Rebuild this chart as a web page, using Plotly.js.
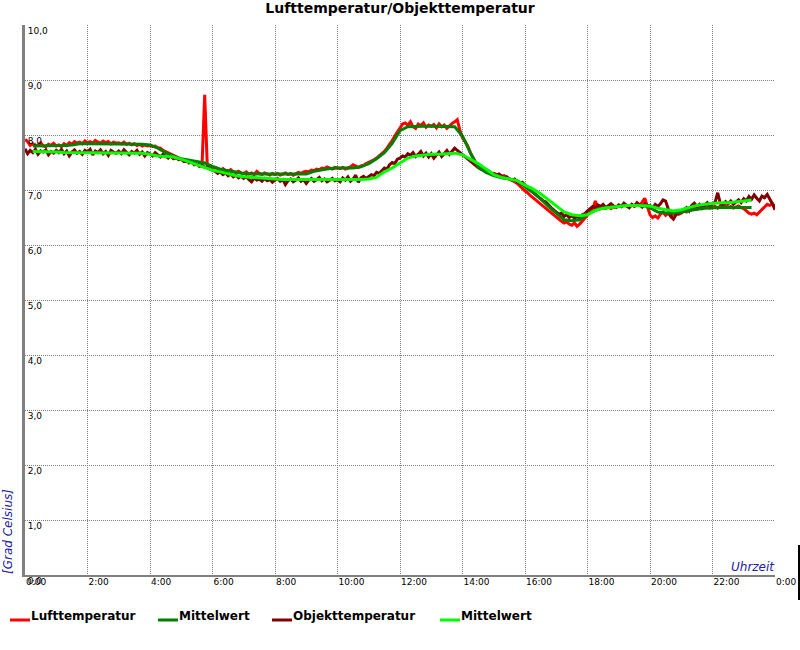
<!DOCTYPE html>
<html>
<head>
<meta charset="utf-8">
<script src="https://cdn.plot.ly/plotly-3.0.1.min.js"></script>
<style>html,body{margin:0;padding:0;background:#fff;}#chart{width:800px;height:650px;}</style>
</head>
<body>
<div id="chart"></div>
<script>
// ---- data ----
const chartTitle = 'Lufttemperatur/Objekttemperatur';
const seriesNames = ['Lufttemperatur', 'Mittelwert', 'Objekttemperatur', 'Mittelwert'];
const xTickHours = [0, 2, 4, 6, 8, 10, 12, 14, 16, 18, 20, 22, 24];
const xTickLabels = ['0:00', '2:00', '4:00', '6:00', '8:00', '10:00', '12:00', '14:00', '16:00', '18:00', '20:00', '22:00', '0:00'];
const yTickValues = [0, 1, 2, 3, 4, 5, 6, 7, 8, 9, 10];
const xAxisLabel = 'Uhrzeit';
const yAxisLabel = '[Grad Celsius]';

// raw readings every 5 minutes from 0:00 to 24:00
const rawIntervalMinutes = 5;
const lufttemperatur = [
  7.92, 7.88, 7.81, 7.84, 7.80, 7.82, 7.86, 7.80, 7.79, 7.83, 7.81, 7.85,
  7.80, 7.82, 7.79, 7.84, 7.81, 7.86, 7.83, 7.88, 7.85, 7.87, 7.84, 7.89,
  7.86, 7.88, 7.85, 7.90, 7.87, 7.85, 7.89, 7.86, 7.88, 7.84, 7.87, 7.85,
  7.86, 7.84, 7.87, 7.83, 7.85, 7.82, 7.84, 7.81, 7.83, 7.80, 7.82, 7.80,
  7.81, 7.79, 7.80, 7.77, 7.76, 7.72, 7.70, 7.68, 7.66, 7.63, 7.61, 7.58,
  7.56, 7.55, 7.52, 7.53, 7.50, 7.49, 7.48, 7.46, 7.47, 8.73, 7.44, 7.42,
  7.40, 7.41, 7.38, 7.36, 7.39, 7.35, 7.34, 7.37, 7.33, 7.32, 7.34, 7.31,
  7.30, 7.33, 7.29, 7.31, 7.28, 7.34, 7.30, 7.28, 7.31, 7.29, 7.27, 7.30,
  7.28, 7.30, 7.27, 7.29, 7.31, 7.28, 7.30, 7.27, 7.29, 7.32, 7.30, 7.33,
  7.34, 7.33, 7.36, 7.35, 7.38, 7.37, 7.40, 7.39, 7.42, 7.40, 7.38, 7.41,
  7.40, 7.39, 7.41, 7.38, 7.40, 7.42, 7.46, 7.43, 7.41, 7.44, 7.45, 7.48,
  7.50, 7.53, 7.55, 7.58, 7.62, 7.66, 7.70, 7.76, 7.82, 7.90, 7.98, 8.06,
  8.14, 8.20, 8.22, 8.18, 8.24, 8.15, 8.12, 8.20, 8.17, 8.22, 8.14, 8.18,
  8.16, 8.19, 8.13, 8.20, 8.15, 8.18, 8.12, 8.17, 8.21, 8.24, 8.28, 8.08,
  7.95, 7.88, 7.80, 7.68, 7.58, 7.50, 7.44, 7.40, 7.38, 7.35, 7.33, 7.30,
  7.30, 7.28, 7.27, 7.25, 7.26, 7.22, 7.20, 7.18, 7.15, 7.12, 7.08, 7.03,
  6.98, 6.95, 6.90, 6.86, 6.82, 6.78, 6.74, 6.70, 6.66, 6.62, 6.58, 6.54,
  6.50, 6.46, 6.43, 6.40, 6.42, 6.38, 6.36, 6.40, 6.34, 6.38, 6.44, 6.50,
  6.56, 6.60, 6.64, 6.80, 6.66, 6.68, 6.70, 6.67, 6.69, 6.66, 6.70, 6.68,
  6.72, 6.70, 6.75, 6.71, 6.68, 6.73, 6.70, 6.74, 6.72, 6.78, 6.85, 6.70,
  6.55, 6.50, 6.53, 6.49, 6.56, 6.60, 6.54, 6.58, 6.52, 6.57, 6.60, 6.56,
  6.58, 6.62, 6.60, 6.66, 6.64, 6.68, 6.65, 6.69, 6.66, 6.68, 6.70, 6.67,
  6.68, 6.70, 6.67, 6.71, 6.69, 6.72, 6.68, 6.70, 6.67, 6.69, 6.71, 6.68,
  6.66, 6.62, 6.58, 6.56, 6.58, 6.55, 6.60, 6.64, 6.70, 6.74, 6.72, 6.75,
  6.70
];
const objekttemperatur = [
  7.75, 7.66, 7.72, 7.68, 7.74, 7.65, 7.71, 7.69, 7.73, 7.64, 7.70, 7.67,
  7.72, 7.68, 7.74, 7.66, 7.71, 7.62, 7.69, 7.73, 7.67, 7.70, 7.65, 7.72,
  7.69, 7.74, 7.64, 7.71, 7.68, 7.73, 7.66, 7.70, 7.63, 7.72, 7.69, 7.67,
  7.71, 7.66, 7.73, 7.68, 7.64, 7.70, 7.67, 7.72, 7.65, 7.69, 7.62, 7.68,
  7.66, 7.62, 7.68, 7.64, 7.60, 7.65, 7.62, 7.58, 7.62, 7.57, 7.59, 7.55,
  7.56, 7.52, 7.54, 7.49, 7.51, 7.46, 7.48, 7.43, 7.45, 7.41, 7.42, 7.38,
  7.36, 7.34, 7.30, 7.33, 7.28, 7.31, 7.26, 7.29, 7.24, 7.27, 7.22, 7.25,
  7.21, 7.24, 7.19, 7.15, 7.22, 7.18, 7.20, 7.16, 7.21, 7.17, 7.19, 7.14,
  7.18, 7.21, 7.16, 7.19, 7.10, 7.17, 7.20, 7.15, 7.18, 7.22, 7.16, 7.19,
  7.12, 7.18, 7.21, 7.16, 7.19, 7.23, 7.17, 7.20, 7.15, 7.18, 7.21, 7.17,
  7.19, 7.15, 7.22, 7.18, 7.24, 7.16, 7.20, 7.27, 7.14, 7.22, 7.25, 7.21,
  7.24, 7.28, 7.26, 7.32, 7.30, 7.36, 7.40, 7.38, 7.46, 7.50, 7.48, 7.56,
  7.58, 7.62, 7.60, 7.66, 7.63, 7.68, 7.61, 7.65, 7.70, 7.62, 7.67, 7.60,
  7.66, 7.58, 7.64, 7.69, 7.61, 7.67, 7.72, 7.65, 7.70, 7.76, 7.72, 7.68,
  7.64, 7.60, 7.56, 7.52, 7.48, 7.45, 7.41, 7.38, 7.36, 7.34, 7.35, 7.31,
  7.30, 7.27, 7.29, 7.25, 7.22, 7.24, 7.20, 7.18, 7.20, 7.15, 7.12, 7.14,
  7.08, 7.04, 7.00, 6.96, 6.92, 6.89, 6.84, 6.80, 6.78, 6.72, 6.68, 6.64,
  6.60, 6.56, 6.58, 6.52, 6.55, 6.50, 6.53, 6.49, 6.52, 6.48, 6.55, 6.57,
  6.62, 6.66, 6.70, 6.68, 6.73, 6.70, 6.74, 6.68, 6.72, 6.75, 6.71, 6.69,
  6.73, 6.70, 6.76, 6.72, 6.68, 6.74, 6.71, 6.77, 6.73, 6.69, 6.75, 6.72,
  6.72, 6.68, 6.74, 6.70, 6.75, 6.82, 6.80, 6.66, 6.52, 6.47, 6.55, 6.58,
  6.60, 6.64, 6.68, 6.62, 6.72, 6.76, 6.70, 6.74, 6.68, 6.73, 6.77, 6.71,
  6.74, 6.78, 6.95, 6.76, 6.73, 6.79, 6.75, 6.80, 6.74, 6.78, 6.82, 6.77,
  6.84, 6.80, 6.88, 6.83, 6.91, 6.85, 6.80, 6.89, 6.86, 6.92, 6.84, 6.75,
  6.64
];

// mean values every 15 minutes from 0:15 to 23:15
const meanStartHour = 0.25;
const meanIntervalHours = 0.25;
const luftMittelwert = [
  7.80, 7.80, 7.80, 7.81,
  7.81, 7.82, 7.84, 7.84,
  7.84, 7.84, 7.84, 7.84,
  7.84, 7.83, 7.83, 7.82,
  7.76, 7.68, 7.61, 7.57,
  7.54, 7.51, 7.49, 7.43,
  7.38, 7.35, 7.32, 7.30,
  7.29, 7.29, 7.28, 7.28,
  7.28, 7.28, 7.29, 7.29,
  7.34, 7.37, 7.39, 7.40,
  7.40, 7.40, 7.42, 7.48,
  7.57, 7.68, 7.85, 8.08,
  8.15, 8.16, 8.16, 8.16,
  8.16, 8.16, 8.15, 7.98,
  7.68, 7.42, 7.32, 7.26,
  7.22, 7.20, 7.17, 7.06,
  6.96, 6.84, 6.70, 6.58,
  6.46, 6.44, 6.46, 6.56,
  6.63, 6.67, 6.69, 6.71,
  6.72, 6.72, 6.72, 6.68,
  6.60, 6.58, 6.58, 6.60,
  6.63, 6.65, 6.67, 6.68,
  6.68, 6.68, 6.68, 6.68,
  6.68
];
const objektMittelwert = [
  7.70, 7.70, 7.70, 7.69,
  7.68, 7.68, 7.68, 7.68,
  7.68, 7.68, 7.68, 7.68,
  7.68, 7.68, 7.67, 7.65,
  7.62, 7.61, 7.60, 7.56,
  7.51, 7.46, 7.40, 7.36,
  7.33, 7.29, 7.26, 7.24,
  7.23, 7.22, 7.20, 7.19,
  7.19, 7.19, 7.19, 7.19,
  7.19, 7.18, 7.18, 7.18,
  7.18, 7.18, 7.19, 7.20,
  7.23, 7.33, 7.40, 7.49,
  7.58, 7.62, 7.64, 7.65,
  7.65, 7.66, 7.67, 7.64,
  7.56, 7.48, 7.38, 7.28,
  7.23, 7.20, 7.17, 7.09,
  7.02, 6.93, 6.82, 6.70,
  6.60, 6.55, 6.53, 6.55,
  6.63, 6.67, 6.69, 6.70,
  6.72, 6.72, 6.72, 6.71,
  6.67, 6.64, 6.62, 6.64,
  6.68, 6.72, 6.74, 6.76,
  6.77, 6.77, 6.78, 6.80,
  6.82
];

// ---- build ----
const rawHours = lufttemperatur.map((_, i) => i * rawIntervalMinutes / 60);
const meanHours = luftMittelwert.map((_, i) => meanStartHour + i * meanIntervalHours);

const colors = ['#ff0000', '#008000', '#800000', '#00ff00'];

const traces = [
  {x: rawHours, y: lufttemperatur, name: seriesNames[0], type: 'scatter', mode: 'lines',
   line: {color: colors[0], width: 3}},
  {x: rawHours, y: objekttemperatur, name: seriesNames[2], type: 'scatter', mode: 'lines',
   line: {color: colors[2], width: 3}},
  {x: meanHours, y: luftMittelwert, name: seriesNames[1], type: 'scatter', mode: 'lines',
   line: {color: colors[1], width: 3}},
  {x: meanHours, y: objektMittelwert, name: seriesNames[3], type: 'scatter', mode: 'lines',
   line: {color: colors[3], width: 3}}
];

// plot area in pixels: x 25..775, y 25..575
const L = 25, R = 775, T = 25, B = 575;
const px = v => (v - L) / (R - L);
const py = v => (B - v) / (B - T);

const legendItems = [
  {name: seriesNames[0], color: colors[0], x0: 10},
  {name: seriesNames[1], color: colors[1], x0: 158},
  {name: seriesNames[2], color: colors[2], x0: 272},
  {name: seriesNames[3], color: colors[3], x0: 440}
];

const shapes = legendItems.map(it => ({
  type: 'line', xref: 'paper', yref: 'paper',
  x0: px(it.x0), x1: px(it.x0 + 20), y0: py(620), y1: py(620),
  line: {color: it.color, width: 3}
}));
shapes.push({type: 'line', xref: 'paper', yref: 'paper', x0: px(799), x1: px(799), y0: py(545), y1: py(600),
  line: {color: '#000', width: 2}});

const annotations = legendItems.map(it => ({
  text: it.name, xref: 'paper', yref: 'paper', x: px(it.x0 + 19), y: py(616),
  xanchor: 'left', yanchor: 'middle', showarrow: false,
  font: {family: 'DejaVu Sans', size: 12, color: '#000', weight: 'bold'}
}));
annotations.push({
  text: xAxisLabel, xref: 'paper', yref: 'paper', x: px(777), y: py(567),
  xanchor: 'right', yanchor: 'middle', showarrow: false,
  font: {family: 'DejaVu Sans', size: 12, color: '#2020a0', style: 'italic'}
});
annotations.push({
  text: yAxisLabel, xref: 'paper', yref: 'paper', x: px(8), y: py(532),
  xanchor: 'center', yanchor: 'middle', showarrow: false, textangle: -90,
  font: {family: 'DejaVu Sans', size: 12, color: '#2020a0', style: 'italic'}
});

const gridStyle = {showgrid: true, gridcolor: '#808080', gridwidth: 1, griddash: '1px,1px',
  zeroline: false, showline: true, linecolor: '#808080', ticks: '', fixedrange: true,
  ticklabeloverflow: 'allow', tickfont: {family: 'DejaVu Sans', size: 9, color: '#000'}};

const layout = {
  width: 800, height: 650,
  margin: {l: L, r: 800 - R, t: T, b: 650 - B, pad: 0},
  paper_bgcolor: '#ffffff', plot_bgcolor: '#ffffff',
  separators: ',.',
  showlegend: false,
  hovermode: false,
  font: {family: 'DejaVu Sans', size: 9, color: '#000'},
  title: {text: chartTitle, x: 0.5, xanchor: 'center', xref: 'paper', y: 1 - 8 / 650, yanchor: 'middle', yref: 'container',
    font: {family: 'DejaVu Sans', size: 14, color: '#000', weight: 'bold'}},
  xaxis: Object.assign({}, gridStyle, {range: [0, 24], tickmode: 'array', tickvals: xTickHours, ticktext: xTickLabels,
    linewidth: 2, ticklabelposition: 'outside right', ticklabelstandoff: -3}),
  yaxis: Object.assign({}, gridStyle, {range: [0, 10], tickmode: 'array', tickvals: yTickValues, tickformat: '.1f',
    linewidth: 3, ticklabelposition: 'inside bottom'}),
  shapes: shapes,
  annotations: annotations
};

Plotly.newPlot('chart', traces, layout, {displayModeBar: false, staticPlot: true});
</script>
</body>
</html>
